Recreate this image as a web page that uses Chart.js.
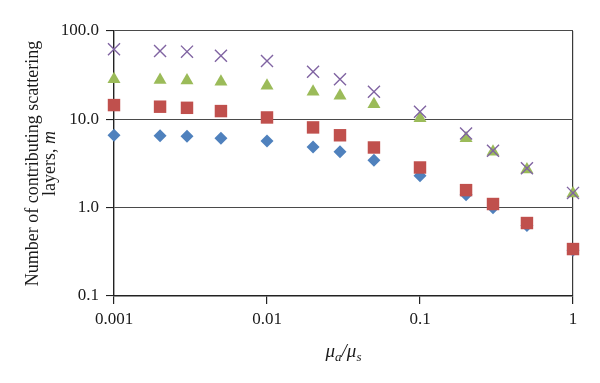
<!DOCTYPE html>
<html>
<head>
<meta charset="utf-8">
<script src="https://cdn.jsdelivr.net/npm/chart.js@4.4.0/dist/chart.umd.min.js"></script>
<style>
  html, body { margin: 0; padding: 0; background: #fff; }
  #wrap { width: 600px; height: 383px; position: relative; }
</style>
</head>
<body>
<div id="wrap"><canvas id="chart"></canvas></div>
<script>
// mu_a / mu_s values on the x axis
const ratios = [0.001, 0.002, 0.003, 0.005, 0.01, 0.02, 0.03, 0.05, 0.1, 0.2, 0.3, 0.5, 1];

// number of contributing scattering layers, one array per marker series
const diamondLayers = [6.6, 6.5, 6.45, 6.1, 5.7, 4.85, 4.3, 3.45, 2.3, 1.4, 1.0, 0.63, 0.33];
const squareLayers = [14.5, 13.9, 13.5, 12.4, 10.5, 8.1, 6.6, 4.8, 2.85, 1.58, 1.1, 0.67, 0.34];
const triangleLayers = [28.4, 27.9, 27.5, 26.7, 24.0, 20.5, 18.5, 14.8, 10.3, 6.1, 4.3, 2.7, 1.45];
const crossLayers = [62, 59.4, 58.4, 52.5, 45.7, 34.6, 28.4, 20.5, 12.2, 6.9, 4.4, 2.8, 1.47];

const xTicks = [0.001, 0.01, 0.1, 1];
const yTicks = [0.1, 1, 10, 100];

const FONT = '"Liberation Serif", "DejaVu Serif", serif';

const toPoints = (ys) => ratios.map((x, i) => ({ x: x, y: ys[i] }));

const makeSeries = (label, ys, style, radius, color, order) => {
    return {
        label: label,
        data: toPoints(ys),
        pointStyle: style,
        pointRadius: radius,
        pointHoverRadius: radius,
        backgroundColor: color,
        borderColor: color,
        borderWidth: style === 'crossRot' ? 1.4 : 0,
        showLine: false,
        clip: false,
        order: order
    };
};

// draws the two axis titles (with italic symbols and subscripts)
const axisTitles = {
    id: 'axisTitles',
    afterDraw(chart) {
        const ctx = chart.ctx;
        const area = chart.chartArea;
        ctx.save();
        ctx.fillStyle = '#1a1a1a';

        // y title, rotated, two lines
        const cy = (area.top + area.bottom) / 2;
        ctx.translate(33, cy);
        ctx.rotate(-Math.PI / 2);
        ctx.textBaseline = 'middle';
        ctx.textAlign = 'center';
        ctx.font = '18px ' + FONT;
        ctx.fillText('Number of contributing scattering', 0, 0);
        const a = 'layers, ';
        const b = 'm';
        const wa = ctx.measureText(a).width;
        ctx.font = 'italic 18px ' + FONT;
        const wb = ctx.measureText(b).width;
        ctx.textAlign = 'left';
        let x0 = -(wa + wb) / 2;
        ctx.font = '18px ' + FONT;
        ctx.fillText(a, x0, 17);
        ctx.font = 'italic 18px ' + FONT;
        ctx.fillText(b, x0 + wa, 17);
        ctx.setTransform(1, 0, 0, 1, 0, 0);

        // x title: mu_a / mu_s
        const parts = [
            ['\u03bc', 19, 0], ['a', 13, 4], ['/', 19, 0], ['\u03bc', 19, 0], ['s', 13, 4]
        ];
        ctx.textAlign = 'left';
        ctx.textBaseline = 'alphabetic';
        let total = 0;
        parts.forEach(p => {
            ctx.font = 'italic ' + p[1] + 'px ' + FONT;
            total += ctx.measureText(p[0]).width;
        });
        let x = 343.5 - total / 2;
        parts.forEach(p => {
            ctx.font = 'italic ' + p[1] + 'px ' + FONT;
            ctx.fillText(p[0], x, 357 + p[2]);
            x += ctx.measureText(p[0]).width;
        });
        ctx.restore();
    }
};

const ctx = document.getElementById('chart');

const chart = new Chart(ctx, {
    type: 'scatter',
    data: {
        datasets: [
            makeSeries('diamonds', diamondLayers, 'rectRot', 6.5, '#4F81BD', 4),
            makeSeries('squares', squareLayers, 'rect', 8.8, '#C0504D', 3),
            makeSeries('triangles', triangleLayers, 'triangle', 7.5, '#9BBB59', 2),
            makeSeries('crosses', crossLayers, 'crossRot', 8.5, '#8064A2', 1)
        ]
    },
    options: {
        responsive: true,
        maintainAspectRatio: false,
        animation: false,
        layout: {
            padding: { top: 31, right: 27, left: 0, bottom: 0 }
        },
        plugins: {
            legend: { display: false },
            tooltip: { enabled: false }
        },
        scales: {
            x: {
                type: 'logarithmic',
                min: 0.001,
                max: 1,
                afterBuildTicks: (scale) => {
                    scale.ticks = xTicks.map(v => ({ value: v }));
                },
                afterFit: (scale) => {
                    scale.height = 87;
                },
                ticks: {
                    callback: (value) => String(value),
                    font: { family: FONT, size: 17 },
                    color: '#1a1a1a',
                    padding: 5,
                    maxRotation: 0,
                    autoSkip: false
                },
                grid: {
                    color: (c) => (c.tick && c.tick.value === 1) ? '#3a3a3a' : 'rgba(0,0,0,0)',
                    tickColor: '#222',
                    tickLength: 8,
                    lineWidth: 1.2
                },
                border: { color: '#222', width: 1.4 }
            },
            y: {
                type: 'logarithmic',
                min: 0.1,
                max: 100,
                afterBuildTicks: (scale) => {
                    scale.ticks = yTicks.map(v => ({ value: v }));
                },
                afterFit: (scale) => {
                    scale.width = 114;
                },
                ticks: {
                    callback: (value) => Number(value).toFixed(1),
                    font: { family: FONT, size: 17 },
                    color: '#1a1a1a',
                    padding: 7,
                    autoSkip: false
                },
                grid: {
                    color: '#4a4a4a',
                    tickColor: '#222',
                    tickLength: 8,
                    lineWidth: 1.1
                },
                border: { color: '#222', width: 1.4 }
            }
        }
    },
    plugins: [axisTitles]
});
</script>
</body>
</html>
